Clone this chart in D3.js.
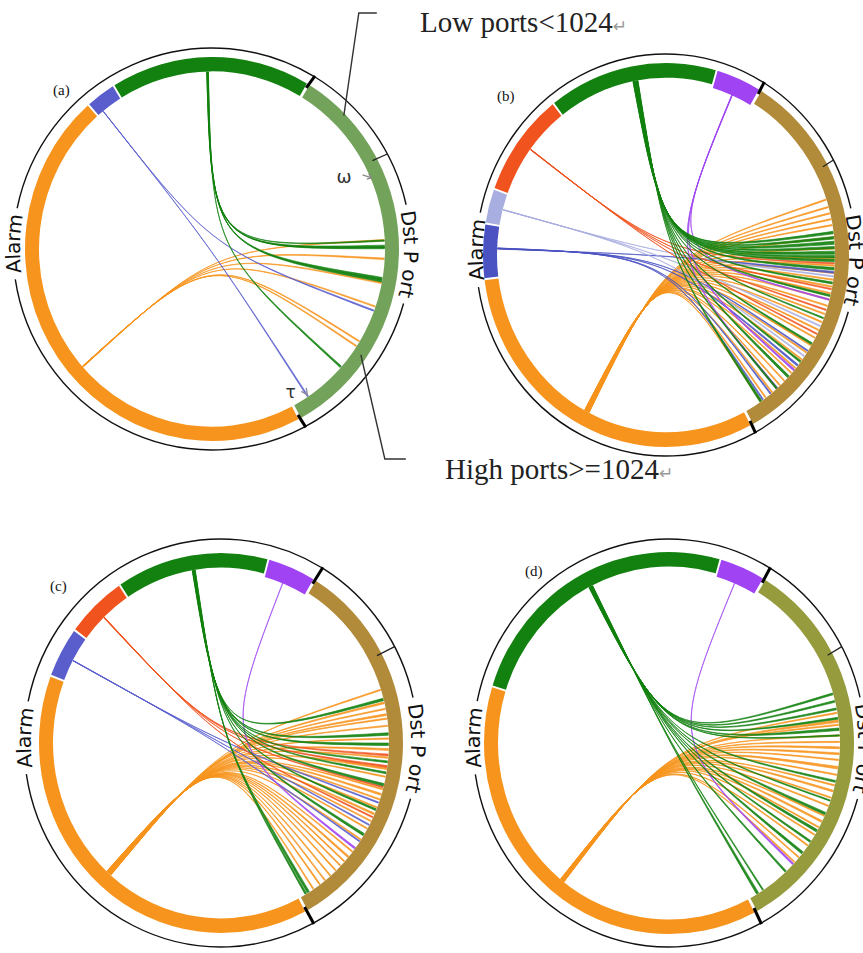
<!DOCTYPE html>
<html><head><meta charset="utf-8">
<script src="https://cdn.jsdelivr.net/npm/d3@7"></script>
<style>body{margin:0;background:#fff}svg{display:block}</style>
</head><body>
<svg id="chart" width="863" height="953"></svg>
<script>
// ---------------- DATA ----------------
// alarm segments per panel, in order (clockwise from the bottom boundary): [type, count]
const alarmsA = [["orange",166],["blue",9],["green",62]];
const alarmsB = [["orange",109],["navy",16],["lavender",10],["red",31],["green",53],["purple",14]];
const alarmsC = [["orange",137],["blue",15],["red",19],["green",48],["purple",15]];
const alarmsD = [["orange",134],["green",88],["purple",14]];

// links: [alarm type, position inside that alarm segment, destination port, weight]
const linksA = [
 ["orange",76,19000,1],["orange",76,23300,1.2],["orange",76,28900,1.2],["orange",76,34600,1],["orange",76,43500,1],["orange",76,44800,1],
 ["green",30,19100,1],["green",30,20300,2],["green",30,20700,1.5],["green",30,27800,2],["green",30,28300,2],["green",30,50800,1.5],
 ["blue",2,35600,1],["blue",2,61300,1]
];
const linksB = [
 ["orange",55,8000,1],["orange",55,9800,1],["orange",55,11300,1],["orange",55,12700,1],["orange",55,14100,1],["orange",55,17000,1],
 ["orange",55,19500,1],["orange",55,21800,1],["orange",55,23500,1],["orange",55,25200,1],["orange",55,26800,1],["orange",55,28400,1],
 ["orange",55,30000,1],["orange",55,31500,1],["orange",55,33000,1],["orange",55,35000,1],["orange",55,37000,1],["orange",55,39000,1],
 ["orange",55,41000,1],["orange",55,43000,1],["orange",55,45000,1],["orange",55,47000,1],["orange",55,49500,1],["orange",55,51000,1],
 ["orange",55,53500,1],["orange",55,55000,1],["orange",55,57500,1],["orange",55,59500,1],["orange",55,61000,1],
 ["green",27,15700,2],["green",27,16900,2],["green",27,18000,2.5],["green",27,19200,2],["green",27,20300,2.5],["green",27,21300,2],
 ["green",27,22200,2],["green",27,24100,2],["green",27,27500,1.5],["green",27,30500,1.5],["green",27,36000,1],["green",27,42500,1.5],
 ["green",27,47500,1.5],["green",27,52000,2],["green",27,56000,1.5],["green",27,60800,2],
 ["red",16,23000,1],["red",16,29000,1],["red",16,34000,1],["red",16,40000,1],
 ["lavender",5,26000,1],["lavender",5,38000,1],["lavender",5,46000,1],
 ["navy",9,25000,1.5],["navy",9,44500,1],["navy",9,48600,1.5],["navy",9,58000,1],["navy",9,60300,1],
 ["purple",7,31500,1],["purple",7,50000,1.5],["purple",7,55900,1.5]
];
const linksC = [
 ["orange",69,8400,1],["orange",69,11500,1.5],["orange",69,13000,1],["orange",69,14300,1.5],["orange",69,15300,1],["orange",69,17000,1],
 ["orange",69,20000,1],["orange",69,22500,1.5],["orange",69,24500,1],["orange",69,27000,1.5],["orange",69,29000,1],["orange",69,32000,1],
 ["orange",69,33200,1.5],["orange",69,34500,1],["orange",69,36500,1],["orange",69,38100,1.5],["orange",69,40000,1],["orange",69,42000,1],
 ["orange",69,45000,1],["orange",69,48500,1],["orange",69,50000,1.5],["orange",69,51500,1],["orange",69,52900,1],["orange",69,54500,1],
 ["orange",69,56300,1],["orange",69,58000,1],["orange",69,59600,1],["orange",69,61500,1],
 ["green",24,10600,2],["green",24,18800,2],["green",24,21200,2],["green",24,25400,1.5],["green",24,28000,1.5],["green",24,30800,2],
 ["green",24,37000,1.5],["green",24,43500,2],["green",24,62800,2],["green",24,63600,1.5],
 ["red",9,23800,1.5],["red",9,26500,1.5],["red",9,31500,1],["red",9,39000,1],
 ["blue",7,35300,1],["blue",7,41000,1],["blue",7,45500,1],
 ["purple",6.5,47400,1.5]
];
const linksD = [
 ["orange",66,14000,1],["orange",66,15800,2],["orange",66,16800,1],["orange",66,19300,1],["orange",66,20800,1],["orange",66,22100,1.5],
 ["orange",66,23500,1.5],["orange",66,25000,1],["orange",66,26700,2],["orange",66,28500,1],["orange",66,31000,1],["orange",66,32300,1.5],
 ["orange",66,34000,1],["orange",66,36000,1],["orange",66,38500,1],["orange",66,39900,1.5],["orange",66,41500,1],["orange",66,43500,1],
 ["orange",66,46500,1],["orange",66,50000,1],["orange",66,51500,1],
 ["green",45,9400,1.5],["green",45,11200,1.5],["green",45,13000,1.5],["green",45,15200,1.5],["green",45,17700,2],["green",45,19300,1],
 ["green",45,30000,1.5],["green",45,34700,1],["green",45,37800,2],["green",45,42300,2],["green",45,45300,1.5],["green",45,48500,2],
 ["green",45,54500,1.5],["green",45,61500,1],["green",45,62900,2],
 ["purple",6.5,52000,1.5]
];
const portTicks = [0, 1024, 65535];       // low / high port split
const groupLabels = ["Alarm", "Dst P ort"];
const panelNames = ["(a)","(b)","(c)","(d)"];
const noteLow = "Low ports<1024", noteHigh = "High ports>=1024";

// ---------------- STYLE / LAYOUT ----------------
const typeColor = {orange:"#f7941d", blue:"#5a5ecd", navy:"#4b53c2", lavender:"#a9aee0",
                   red:"#f1531f", green:"#12810f", purple:"#a044f3"};
const panels = [
 {name:panelNames[0], alarms:alarmsA, links:linksA, dst:"#73a35b", cx:212, cy:249, rx:187, ry:192, bx:199, by:201, lx:53, ly:95},
 {name:panelNames[1], alarms:alarmsB, links:linksB, dst:"#b28b3a", cx:666, cy:255, rx:183, ry:192, bx:190, by:201, lx:497, ly:101},
 {name:panelNames[2], alarms:alarmsC, links:linksC, dst:"#b28b3a", cx:221, cy:743, rx:182, ry:190, bx:197, by:204, lx:50, ly:591},
 {name:panelNames[3], alarms:alarmsD, links:linksD, dst:"#969b3e", cx:669, cy:743, rx:185, ry:191, bx:196, by:204, lx:525, ly:576}
];
const ALARM_RANGE = [152.5, 390.5], DST_RANGE = [31, 61.8, 152];
const GAP = 0.6, RING = 14, SW = 0.06, TW = 0.4;
const rad = d => d*Math.PI/180;
const svg = d3.select("#chart");
const defs = svg.append("defs");

function arcPath(r, a0, a1){ const p=d3.path(); p.arc(0,0,r,rad(a0)-Math.PI/2,rad(a1)-Math.PI/2); return p.toString(); }
function pt(r, s, deg){ const a=rad(deg); return [r*Math.sin(a), -r*Math.cos(a)*s]; }
// context for d3.ribbon that pulls each curve harder towards the centre (cubic, both controls at centre)
function bundleContext(){
  const p = d3.path();
  return { p,
    moveTo:(x,y)=>p.moveTo(x,y), lineTo:(x,y)=>p.lineTo(x,y),
    arc:(...a)=>p.arc(...a), closePath:()=>p.closePath(),
    quadraticCurveTo:(cx,cy,x,y)=>p.bezierCurveTo(cx,cy,cx,cy,x,y) };
}

const geo = [];
panels.forEach((p,pi)=>{
  const g = svg.append("g").attr("transform",`translate(${p.cx},${p.cy})`);
  const sR = p.ry/p.rx, sB = p.by/p.bx;
  const ringG = g.append("g").attr("transform",`scale(1,${sR})`);
  const total = d3.sum(p.alarms,d=>d[1]) + (p.alarms.length-1)*GAP;
  const aScale = d3.scaleLinear().domain([0,total]).range(ALARM_RANGE);
  const pScale = d3.scaleLinear().domain(portTicks).range(DST_RANGE);
  const rOut = p.rx, rIn = p.rx - RING;
  let acc = 0; const segStart = {}, segs = [];
  p.alarms.forEach(([t,n])=>{ segStart[t]=acc; segs.push({t, a0:aScale(acc), a1:aScale(acc+n)}); acc += n+GAP; });

  // chords (ribbons bundled through the centre)
  const ribbon = d3.ribbon().radius(rIn-0.5);
  const byType = d3.group(p.links, d=>d[0]);
  const order = ["orange","blue","navy","lavender","red","purple","green"];
  const chordG = ringG.append("g");
  order.forEach(t=>{
    const arr = (byType.get(t)||[]).slice().sort((a,b)=>a[2]-b[2]);
    const tot = d3.sum(arr,d=>d[3])*SW;
    let cum = 0;
    arr.forEach(d=>{
      const s0 = aScale(segStart[t]+d[1]) - tot/2 + cum; cum += d[3]*SW;
      const t0 = pScale(d[2]);
      const obj = {source:{startAngle:rad(s0), endAngle:rad(s0+d[3]*SW)},
                   target:{startAngle:rad(t0), endAngle:rad(t0+d[3]*TW)}};
      const ctx = bundleContext();
      ribbon.context(ctx)(obj);
      chordG.append("path").attr("d",ctx.p.toString())
        .attr("fill",typeColor[t]).attr("fill-opacity",0.9)
        .attr("stroke",typeColor[t]).attr("stroke-width",0.7).attr("stroke-opacity",0.9)
        .attr("vector-effect","non-scaling-stroke");
    });
  });

  // ring segments
  const arc = d3.arc();
  segs.forEach(s=>{
    ringG.append("path").attr("d",arc({innerRadius: s.t==="purple"? rIn-3 : rIn, outerRadius:rOut,
        startAngle:rad(s.a0), endAngle:rad(s.a1)})).attr("fill",typeColor[s.t]);
  });
  ringG.append("path").attr("d",arc({innerRadius:rIn,outerRadius:rOut,startAngle:rad(DST_RANGE[0]+0.4),endAngle:rad(DST_RANGE[2]-0.4)}))
    .attr("fill",p.dst);

  // outer black arcs with labels
  const blackG = g.append("g").attr("transform",`scale(1,${sB})`);
  const groups = [
    {label:groupLabels[0], a0:ALARM_RANGE[0]-0.3, a1:ALARM_RANGE[1]+0.3},
    {label:groupLabels[1], a0:DST_RANGE[0]+0.3, a1:DST_RANGE[2]-0.3}
  ];
  groups.forEach((gr,gi)=>{
    const mid = (gr.a0+gr.a1)/2;
    const tmp = svg.append("text").attr("font-family","DejaVu Sans").attr("font-size",20).text(gr.label);
    const len = tmp.node().getComputedTextLength(); tmp.remove();
    const half = (len/2+6)/p.bx*180/Math.PI;
    blackG.append("path").attr("d",arcPath(p.bx,gr.a0,mid-half)).attr("fill","none").attr("stroke","#111").attr("stroke-width",1.4).attr("vector-effect","non-scaling-stroke");
    blackG.append("path").attr("d",arcPath(p.bx,mid+half,gr.a1)).attr("fill","none").attr("stroke","#111").attr("stroke-width",1.4).attr("vector-effect","non-scaling-stroke");
    const id = `lp${pi}_${gi}`;
    defs.append("path").attr("id",id).attr("d",arcPath(p.bx,mid-90,mid+90));
    blackG.append("text").attr("font-family","DejaVu Sans").attr("font-size",20).attr("fill","#111")
      .attr("dominant-baseline","central")
      .append("textPath").attr("href","#"+id).attr("startOffset","50%").attr("text-anchor","middle").text(gr.label);
  });

  // ticks at group boundaries and at the low/high port split
  [DST_RANGE[0], DST_RANGE[2]].forEach(a=>{
    const p1 = pt(rOut-4, sR, a), p2 = pt(p.bx+1, sB, a);
    g.append("line").attr("x1",p1[0]).attr("y1",p1[1]).attr("x2",p2[0]).attr("y2",p2[1]).attr("stroke","#000").attr("stroke-width",3);
  });
  {
    const a = pScale(portTicks[1]);
    const p1 = pt(rOut-5, sR, a), p2 = pt(p.bx, sB, a);
    g.append("line").attr("x1",p1[0]).attr("y1",p1[1]).attr("x2",p2[0]).attr("y2",p2[1]).attr("stroke","#222").attr("stroke-width",1.3);
  }
  svg.append("text").attr("x",p.lx).attr("y",p.ly).attr("font-family","Liberation Serif").attr("font-size",15).attr("fill","#111").text(p.name);
  geo.push({g, sR, sB, rIn, rOut, aScale, pScale, segStart, p});
});

// ---------------- ANNOTATIONS (panel a) ----------------
{
  const A = geo[0], g = A.g;
  const tl = linksA.find(d=>d[0]==="blue" && d[2]>60000);
  const src = pt(A.rIn, A.sR, A.aScale(A.segStart.blue+tl[1]));
  const tip = pt(A.rIn-2, A.sR, A.pScale(tl[2]));
  const ang = Math.atan2(tip[1]-src[1], tip[0]-src[0]);
  const ah = (o)=>[tip[0]-7*Math.cos(ang+o), tip[1]-7*Math.sin(ang+o)];
  g.append("path").attr("d",`M${ah(0.45)}L${tip}L${ah(-0.45)}`).attr("fill","none").attr("stroke","#8a8aa0").attr("stroke-width",1.3);
  g.append("text").attr("x",tip[0]-22).attr("y",tip[1]+3).attr("font-family","DejaVu Sans").attr("font-size",17).attr("fill","#333").text("τ");
  const oa = A.pScale(4400);
  const otip = pt(A.rIn+1, A.sR, oa);
  const ot0 = [otip[0]-9, otip[1]-3];
  const oang = Math.atan2(otip[1]-ot0[1], otip[0]-ot0[0]);
  const oh = (o)=>[otip[0]-5*Math.cos(oang+o), otip[1]-5*Math.sin(oang+o)];
  g.append("path").attr("d",`M${ot0}L${otip}M${oh(0.6)}L${otip}L${oh(-0.6)}`).attr("fill","none").attr("stroke","#888").attr("stroke-width",1.2);
  g.append("text").attr("x",otip[0]-35).attr("y",otip[1]+5).attr("font-family","DejaVu Sans").attr("font-size",18).attr("fill","#333").text("ω");

  const lowPt = pt(A.rOut-2, A.sR, A.pScale(480));
  const highPt = pt(A.rOut-6, A.sR, A.pScale(46000));
  const P = (q)=>[q[0]+A.p.cx, q[1]+A.p.cy];
  const L = P(lowPt), Hh = P(highPt);
  svg.append("path").attr("d",`M${L}L${L[0]+15},13L${L[0]+33},13`).attr("fill","none").attr("stroke","#333").attr("stroke-width",1.4);
  svg.append("path").attr("d",`M${Hh}L${Hh[0]+24},459L${Hh[0]+45},459`).attr("fill","none").attr("stroke","#333").attr("stroke-width",1.4);
  const t1 = svg.append("text").attr("x",420).attr("y",32).attr("font-family","Liberation Serif").attr("font-size",29).attr("fill","#222").text(noteLow);
  t1.append("tspan").attr("font-size",17).attr("fill","#999").attr("font-family","DejaVu Sans").text("↵");
  const t2 = svg.append("text").attr("x",445).attr("y",479).attr("font-family","Liberation Serif").attr("font-size",29).attr("fill","#222").text(noteHigh);
  t2.append("tspan").attr("font-size",17).attr("fill","#999").attr("font-family","DejaVu Sans").text("↵");
}
</script>
</body></html>
